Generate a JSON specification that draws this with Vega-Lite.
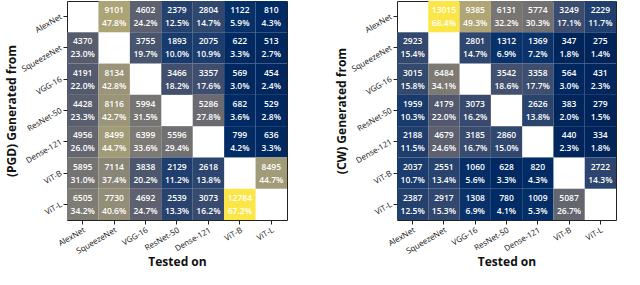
{
  "$schema": "https://vega.github.io/schema/vega-lite/v6.json",
  "padding": {"left": 4, "top": 0, "right": 0, "bottom": 8},
  "background": "white",
  "spacing": 46,
  "config": {
    "view": {"stroke": "#222", "strokeWidth": 1},
    "axis": {"labelFont": "Open Sans", "labelFontSize": 8, "labelColor": "#111", "titleFont": "Open Sans", "titleFontSize": 12, "titleFontWeight": "bold", "titleColor": "#111", "domain": false, "tickColor": "#222", "tickSize": 4, "grid": false}
  },
  "datasets": {
    "pgd": [
      {"from": "AlexNet", "to": "SqueezeNet", "count": 9101, "pct": 0.478},
      {"from": "AlexNet", "to": "VGG-16", "count": 4602, "pct": 0.242},
      {"from": "AlexNet", "to": "ResNet-50", "count": 2379, "pct": 0.125},
      {"from": "AlexNet", "to": "Dense-121", "count": 2804, "pct": 0.147},
      {"from": "AlexNet", "to": "ViT-B", "count": 1122, "pct": 0.059},
      {"from": "AlexNet", "to": "ViT-L", "count": 810, "pct": 0.043},
      {"from": "SqueezeNet", "to": "AlexNet", "count": 4370, "pct": 0.230},
      {"from": "SqueezeNet", "to": "VGG-16", "count": 3755, "pct": 0.197},
      {"from": "SqueezeNet", "to": "ResNet-50", "count": 1893, "pct": 0.100},
      {"from": "SqueezeNet", "to": "Dense-121", "count": 2075, "pct": 0.109},
      {"from": "SqueezeNet", "to": "ViT-B", "count": 622, "pct": 0.033},
      {"from": "SqueezeNet", "to": "ViT-L", "count": 513, "pct": 0.027},
      {"from": "VGG-16", "to": "AlexNet", "count": 4191, "pct": 0.220},
      {"from": "VGG-16", "to": "SqueezeNet", "count": 8134, "pct": 0.428},
      {"from": "VGG-16", "to": "ResNet-50", "count": 3466, "pct": 0.182},
      {"from": "VGG-16", "to": "Dense-121", "count": 3357, "pct": 0.176},
      {"from": "VGG-16", "to": "ViT-B", "count": 569, "pct": 0.030},
      {"from": "VGG-16", "to": "ViT-L", "count": 454, "pct": 0.024},
      {"from": "ResNet-50", "to": "AlexNet", "count": 4428, "pct": 0.233},
      {"from": "ResNet-50", "to": "SqueezeNet", "count": 8116, "pct": 0.427},
      {"from": "ResNet-50", "to": "VGG-16", "count": 5994, "pct": 0.315},
      {"from": "ResNet-50", "to": "Dense-121", "count": 5286, "pct": 0.278},
      {"from": "ResNet-50", "to": "ViT-B", "count": 682, "pct": 0.036},
      {"from": "ResNet-50", "to": "ViT-L", "count": 529, "pct": 0.028},
      {"from": "Dense-121", "to": "AlexNet", "count": 4956, "pct": 0.260},
      {"from": "Dense-121", "to": "SqueezeNet", "count": 8499, "pct": 0.447},
      {"from": "Dense-121", "to": "VGG-16", "count": 6399, "pct": 0.336},
      {"from": "Dense-121", "to": "ResNet-50", "count": 5596, "pct": 0.294},
      {"from": "Dense-121", "to": "ViT-B", "count": 799, "pct": 0.042},
      {"from": "Dense-121", "to": "ViT-L", "count": 636, "pct": 0.033},
      {"from": "ViT-B", "to": "AlexNet", "count": 5895, "pct": 0.310},
      {"from": "ViT-B", "to": "SqueezeNet", "count": 7114, "pct": 0.374},
      {"from": "ViT-B", "to": "VGG-16", "count": 3838, "pct": 0.202},
      {"from": "ViT-B", "to": "ResNet-50", "count": 2129, "pct": 0.112},
      {"from": "ViT-B", "to": "Dense-121", "count": 2618, "pct": 0.138},
      {"from": "ViT-B", "to": "ViT-L", "count": 8495, "pct": 0.447},
      {"from": "ViT-L", "to": "AlexNet", "count": 6505, "pct": 0.342},
      {"from": "ViT-L", "to": "SqueezeNet", "count": 7730, "pct": 0.406},
      {"from": "ViT-L", "to": "VGG-16", "count": 4692, "pct": 0.247},
      {"from": "ViT-L", "to": "ResNet-50", "count": 2539, "pct": 0.133},
      {"from": "ViT-L", "to": "Dense-121", "count": 3073, "pct": 0.162},
      {"from": "ViT-L", "to": "ViT-B", "count": 12784, "pct": 0.672}
    ],
    "cw": [
      {"from": "AlexNet", "to": "SqueezeNet", "count": 13015, "pct": 0.684},
      {"from": "AlexNet", "to": "VGG-16", "count": 9385, "pct": 0.493},
      {"from": "AlexNet", "to": "ResNet-50", "count": 6131, "pct": 0.322},
      {"from": "AlexNet", "to": "Dense-121", "count": 5774, "pct": 0.303},
      {"from": "AlexNet", "to": "ViT-B", "count": 3249, "pct": 0.171},
      {"from": "AlexNet", "to": "ViT-L", "count": 2229, "pct": 0.117},
      {"from": "SqueezeNet", "to": "AlexNet", "count": 2923, "pct": 0.154},
      {"from": "SqueezeNet", "to": "VGG-16", "count": 2801, "pct": 0.147},
      {"from": "SqueezeNet", "to": "ResNet-50", "count": 1312, "pct": 0.069},
      {"from": "SqueezeNet", "to": "Dense-121", "count": 1369, "pct": 0.072},
      {"from": "SqueezeNet", "to": "ViT-B", "count": 347, "pct": 0.018},
      {"from": "SqueezeNet", "to": "ViT-L", "count": 275, "pct": 0.014},
      {"from": "VGG-16", "to": "AlexNet", "count": 3015, "pct": 0.158},
      {"from": "VGG-16", "to": "SqueezeNet", "count": 6484, "pct": 0.341},
      {"from": "VGG-16", "to": "ResNet-50", "count": 3542, "pct": 0.186},
      {"from": "VGG-16", "to": "Dense-121", "count": 3358, "pct": 0.177},
      {"from": "VGG-16", "to": "ViT-B", "count": 564, "pct": 0.030},
      {"from": "VGG-16", "to": "ViT-L", "count": 431, "pct": 0.023},
      {"from": "ResNet-50", "to": "AlexNet", "count": 1959, "pct": 0.103},
      {"from": "ResNet-50", "to": "SqueezeNet", "count": 4179, "pct": 0.220},
      {"from": "ResNet-50", "to": "VGG-16", "count": 3073, "pct": 0.162},
      {"from": "ResNet-50", "to": "Dense-121", "count": 2626, "pct": 0.138},
      {"from": "ResNet-50", "to": "ViT-B", "count": 383, "pct": 0.020},
      {"from": "ResNet-50", "to": "ViT-L", "count": 279, "pct": 0.015},
      {"from": "Dense-121", "to": "AlexNet", "count": 2188, "pct": 0.115},
      {"from": "Dense-121", "to": "SqueezeNet", "count": 4679, "pct": 0.246},
      {"from": "Dense-121", "to": "VGG-16", "count": 3185, "pct": 0.167},
      {"from": "Dense-121", "to": "ResNet-50", "count": 2860, "pct": 0.150},
      {"from": "Dense-121", "to": "ViT-B", "count": 440, "pct": 0.023},
      {"from": "Dense-121", "to": "ViT-L", "count": 334, "pct": 0.018},
      {"from": "ViT-B", "to": "AlexNet", "count": 2037, "pct": 0.107},
      {"from": "ViT-B", "to": "SqueezeNet", "count": 2551, "pct": 0.134},
      {"from": "ViT-B", "to": "VGG-16", "count": 1060, "pct": 0.056},
      {"from": "ViT-B", "to": "ResNet-50", "count": 628, "pct": 0.033},
      {"from": "ViT-B", "to": "Dense-121", "count": 820, "pct": 0.043},
      {"from": "ViT-B", "to": "ViT-L", "count": 2722, "pct": 0.143},
      {"from": "ViT-L", "to": "AlexNet", "count": 2387, "pct": 0.125},
      {"from": "ViT-L", "to": "SqueezeNet", "count": 2917, "pct": 0.153},
      {"from": "ViT-L", "to": "VGG-16", "count": 1308, "pct": 0.069},
      {"from": "ViT-L", "to": "ResNet-50", "count": 780, "pct": 0.041},
      {"from": "ViT-L", "to": "Dense-121", "count": 1009, "pct": 0.053},
      {"from": "ViT-L", "to": "ViT-B", "count": 5087, "pct": 0.267}
    ]
  },
  "resolve": {"scale": {"color": "independent"}},
  "hconcat": [
    {
      "data": {"name": "pgd"},
      "width": 220,
      "height": 219,
      "encoding": {
        "x": {"field": "to", "type": "nominal", "sort": ["AlexNet", "SqueezeNet", "VGG-16", "ResNet-50", "Dense-121", "ViT-B", "ViT-L"], "axis": {"title": "Tested on", "labelAngle": -30, "labelAlign": "right", "labelBaseline": "top", "titlePadding": 1}},
        "y": {"field": "from", "type": "nominal", "sort": ["AlexNet", "SqueezeNet", "VGG-16", "ResNet-50", "Dense-121", "ViT-B", "ViT-L"], "axis": {"title": "(PGD) Generated from", "labelAngle": -30, "labelAlign": "right", "labelBaseline": "middle", "titlePadding": 2}}
      },
      "layer": [
        {"mark": {"type": "rect"}, "encoding": {"color": {"field": "pct", "type": "quantitative", "scale": {"scheme": "cividis", "zero": true}, "legend": null}}},
        {"mark": {"type": "text", "font": "Open Sans", "fontSize": 8.5, "fontWeight": 600, "color": "white", "dy": -6.5}, "encoding": {"text": {"field": "count", "type": "quantitative", "format": "d"}}},
        {"mark": {"type": "text", "font": "Open Sans", "fontSize": 8.5, "fontWeight": 600, "color": "white", "dy": 6.5}, "encoding": {"text": {"field": "pct", "type": "quantitative", "format": ".1%"}}}
      ]
    },
    {
      "data": {"name": "cw"},
      "width": 219,
      "height": 219,
      "encoding": {
        "x": {"field": "to", "type": "nominal", "sort": ["AlexNet", "SqueezeNet", "VGG-16", "ResNet-50", "Dense-121", "ViT-B", "ViT-L"], "axis": {"title": "Tested on", "labelAngle": -30, "labelAlign": "right", "labelBaseline": "top", "titlePadding": 1}},
        "y": {"field": "from", "type": "nominal", "sort": ["AlexNet", "SqueezeNet", "VGG-16", "ResNet-50", "Dense-121", "ViT-B", "ViT-L"], "axis": {"title": "(CW) Generated from", "labelAngle": -30, "labelAlign": "right", "labelBaseline": "middle", "titlePadding": 2}}
      },
      "layer": [
        {"mark": {"type": "rect"}, "encoding": {"color": {"field": "pct", "type": "quantitative", "scale": {"scheme": "cividis", "zero": true}, "legend": null}}},
        {"mark": {"type": "text", "font": "Open Sans", "fontSize": 8.5, "fontWeight": 600, "color": "white", "dy": -6.5}, "encoding": {"text": {"field": "count", "type": "quantitative", "format": "d"}}},
        {"mark": {"type": "text", "font": "Open Sans", "fontSize": 8.5, "fontWeight": 600, "color": "white", "dy": 6.5}, "encoding": {"text": {"field": "pct", "type": "quantitative", "format": ".1%"}}}
      ]
    }
  ]
}
